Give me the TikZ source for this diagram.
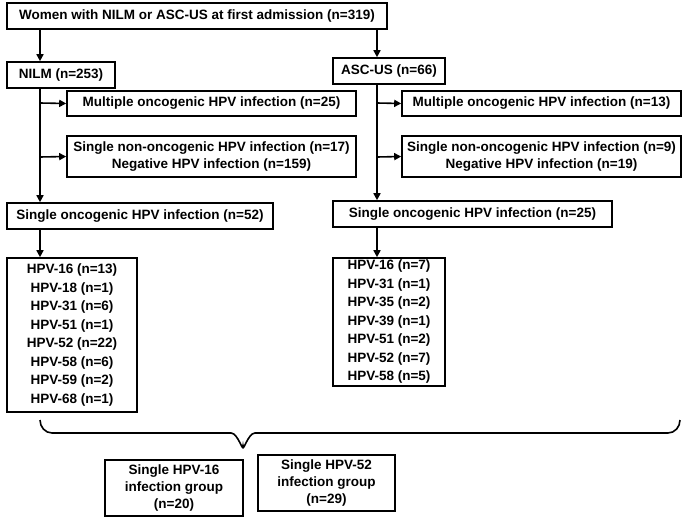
\documentclass[tikz,border=0pt]{standalone}
\usepackage{fontspec}
\setmainfont{Liberation Sans}
\usetikzlibrary{arrows.meta}
\begin{document}
\begin{tikzpicture}[x=1pt,y=-1pt,line width=1.6pt,
  box/.style={draw,rectangle,inner sep=0pt,font=\bfseries\fontsize{13.5}{18.5}\selectfont,align=center},
  arr/.style={-{Triangle[length=7pt,width=7pt]}}]
\useasboundingbox (0,0) rectangle (685,522);
% top
\node[box,minimum width=380,minimum height=26] (top) at (197,16) {Women with NILM or ASC-US at first admission (n=319)};
% left branch
\node[box,minimum width=108,minimum height=26] (nilm) at (61,75) {NILM (n=253)};
\node[box,minimum width=289,minimum height=25] (lmul) at (211.5,103.5) {Multiple oncogenic HPV infection (n=25)};
\node[box,minimum width=289,minimum height=41,font=\bfseries\fontsize{13.5}{17}\selectfont] (lneg) at (211.5,156.5) {Single non-oncogenic HPV infection (n=17)\\Negative HPV infection (n=159)};
\node[box,minimum width=266,minimum height=26] (lsin) at (140,216) {Single oncogenic HPV infection (n=52)};
\node[box,minimum width=130,minimum height=154] (llist) at (72,335) {HPV-16 (n=13)\\HPV-18 (n=1)\\HPV-31 (n=6)\\HPV-51 (n=1)\\HPV-52 (n=22)\\HPV-58 (n=6)\\HPV-59 (n=2)\\HPV-68 (n=1)};
% right branch
\node[box,minimum width=112,minimum height=26] (ascus) at (389,71) {ASC-US (n=66)};
\node[box,minimum width=279,minimum height=25] (rmul) at (541.5,103.5) {Multiple oncogenic HPV infection (n=13)};
\node[box,minimum width=279,minimum height=41,font=\bfseries\fontsize{13.5}{17}\selectfont] (rneg) at (541.5,156.5) {Single non-oncogenic HPV infection (n=9)\\Negative HPV infection (n=19)};
\node[box,minimum width=279,minimum height=26] (rsin) at (472.5,214) {Single oncogenic HPV infection (n=25)};
\node[box,minimum width=112,minimum height=128] (rlist) at (389,322) {HPV-16 (n=7)\\HPV-31 (n=1)\\HPV-35 (n=2)\\HPV-39 (n=1)\\HPV-51 (n=2)\\HPV-52 (n=7)\\HPV-58 (n=5)};
% groups
\node[box,minimum width=138,minimum height=56,font=\bfseries\fontsize{13.5}{17}\selectfont] (g16) at (174,488) {Single HPV-16\\infection group\\(n=20)};
\node[box,minimum width=137,minimum height=56,font=\bfseries\fontsize{13.5}{17}\selectfont] (g52) at (326.5,483) {Single HPV-52\\infection group\\(n=29)};
% connectors
\coordinate (la) at (40,103); \coordinate (lb) at (40,157);
\coordinate (ra) at (377,103); \coordinate (rb) at (377,157);
\draw[arr] (40,29) -- (nilm.north -| la);
\draw[arr] (377,29) -- (ascus.north -| ra);
\draw[arr] (40,88) -- (lsin.north -| la);
\draw[arr] (la) -- (lmul.west);
\draw[arr] (lb) -- (lneg.west);
\draw[arr] (lsin.south -| la) -- (llist.north -| la);
\draw[arr] (377,84) -- (rsin.north -| ra);
\draw[arr] (ra) -- (rmul.west);
\draw[arr] (rb) -- (rneg.west);
\draw[arr] (rsin.south -| ra) -- (rlist.north -| ra);
% brace
\draw (40,420) to[out=-90,in=180] (52,433) -- (231,433) to[out=0,in=-90] (243,446)
      to[out=-90,in=180] (255,433) -- (668,433) to[out=0,in=-90] (680,420);
\end{tikzpicture}
\end{document}
